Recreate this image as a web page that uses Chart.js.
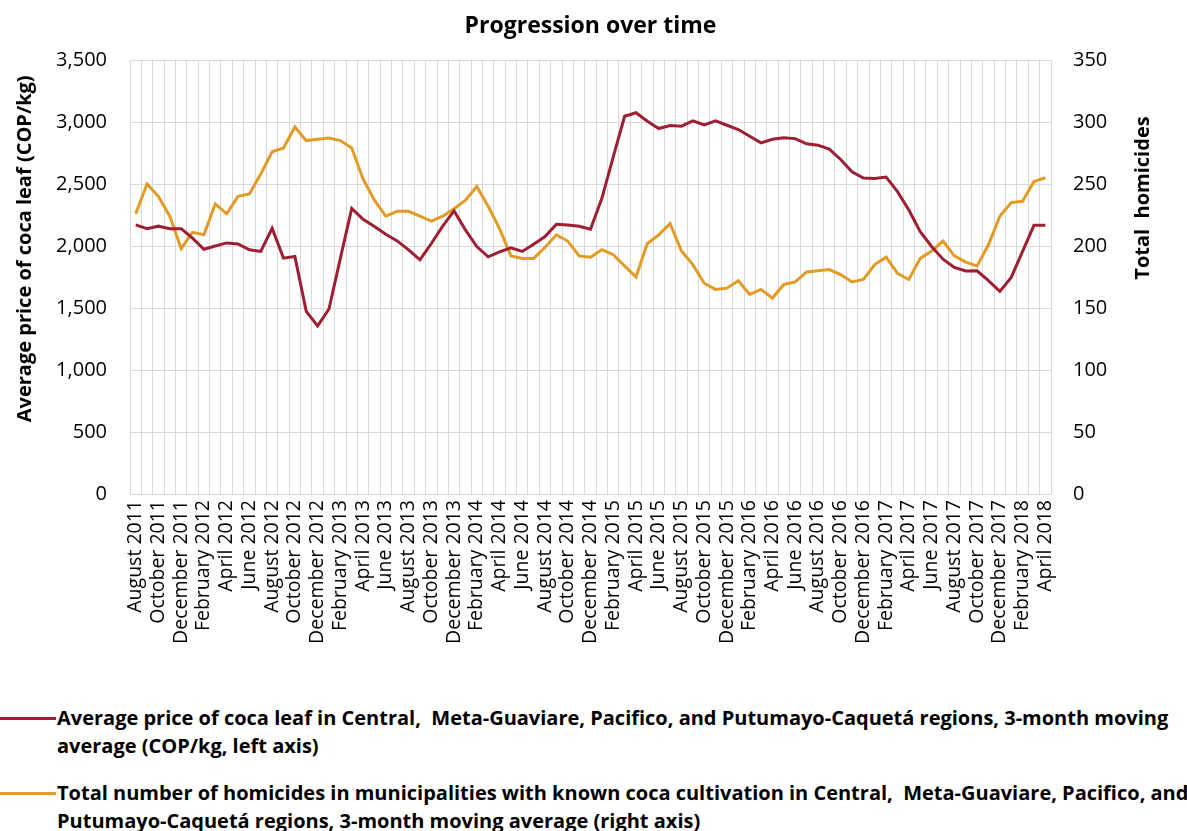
<!DOCTYPE html>
<html>
<head>
<meta charset="utf-8">
<title>Progression over time</title>
<script src="https://cdn.jsdelivr.net/npm/chart.js"></script>
<style>
  body { margin: 0; background: #fff; font-family: "Open Sans", sans-serif; }
  #wrap { position: relative; width: 1187px; height: 831px; }
  #legend { position: absolute; left: 0; top: 704px; width: 1187px; }
  .item { position: relative; padding-left: 57px; margin-bottom: 19px; white-space: pre;
    font-weight: bold; font-size: 20px; line-height: 28px; color: #000; }
  .item .swatch { position: absolute; left: 0; top: 13px; width: 56px; height: 3px; }
</style>
</head>
<body>
<div id="wrap">
  <canvas id="myChart" width="1187" height="680"></canvas>
  <div id="legend"></div>
</div>
<script>
// months, Aug 2011 - Apr 2018
var months = [
  "August 2011", "September 2011", "October 2011", "November 2011", "December 2011",
  "January 2012", "February 2012", "March 2012", "April 2012", "May 2012", "June 2012",
  "July 2012", "August 2012", "September 2012", "October 2012", "November 2012", "December 2012",
  "January 2013", "February 2013", "March 2013", "April 2013", "May 2013", "June 2013",
  "July 2013", "August 2013", "September 2013", "October 2013", "November 2013", "December 2013",
  "January 2014", "February 2014", "March 2014", "April 2014", "May 2014", "June 2014",
  "July 2014", "August 2014", "September 2014", "October 2014", "November 2014", "December 2014",
  "January 2015", "February 2015", "March 2015", "April 2015", "May 2015", "June 2015",
  "July 2015", "August 2015", "September 2015", "October 2015", "November 2015", "December 2015",
  "January 2016", "February 2016", "March 2016", "April 2016", "May 2016", "June 2016",
  "July 2016", "August 2016", "September 2016", "October 2016", "November 2016", "December 2016",
  "January 2017", "February 2017", "March 2017", "April 2017", "May 2017", "June 2017",
  "July 2017", "August 2017", "September 2017", "October 2017", "November 2017", "December 2017",
  "January 2018", "February 2018", "March 2018", "April 2018"
];

// coca leaf price, COP/kg (3-month moving avg)
var cocaPrice = [
  2170, 2140, 2160, 2140, 2140,
  2063, 1974, 2000, 2025, 2017, 1969, 1956, 2143, 1902, 1915, 1473, 1356,
  1492, 1900, 2304, 2216, 2157, 2095, 2041, 1969, 1889, 2020, 2160, 2283,
  2130, 1996, 1913, 1953, 1985, 1956, 2015, 2076, 2175, 2170, 2159, 2135,
  2384, 2719, 3046, 3075, 3006, 2947, 2971, 2966, 3009, 2976, 3009, 2974,
  2939, 2885, 2832, 2861, 2872, 2866, 2824, 2813, 2781, 2698, 2599, 2548,
  2545, 2556, 2438, 2290, 2116, 1996, 1894, 1827, 1798, 1800, 1720, 1634,
  1747, 1956, 2167, 2167
];

// homicides in coca municipalities (3-month moving avg)
var homicides = [
  226, 250, 240, 224, 198,
  211, 209, 234, 226, 240, 242, 258, 276, 279, 296, 285, 286,
  287, 285, 279, 254, 237, 224, 228, 228, 224, 220, 224, 230,
  237, 248, 232, 214, 192, 190, 190, 199, 209, 204, 192, 191,
  197, 193, 184, 175, 202, 209, 218, 196, 185, 170, 165, 166,
  172, 161, 165, 158, 169, 171, 179, 180, 181, 177, 171, 173,
  185, 191, 178, 173, 190, 196, 204, 192, 187, 184, 201, 224,
  235, 236, 252, 255
];

var seriesNames = [
  ["Average price of coca leaf in Central,  Meta-Guaviare, Pacifico, and Putumayo-Caquetá regions, 3-month moving",
   "average (COP/kg, left axis)"],
  ["Total number of homicides in municipalities with known coca cultivation in Central,  Meta-Guaviare, Pacifico, and",
   "Putumayo-Caquetá regions, 3-month moving average (right axis)"]
];
var seriesColors = ["#9e1f32", "#e39b26"];

var chartTitle = "Progression over time";
var leftTitle = "Average price of coca leaf (COP/kg)";
var rightTitle = "Total  homicides";

var font = "'Open Sans', sans-serif";
var gridColor = "#d9d9d9";

// axis titles drawn by hand so both read bottom-to-top
var axisTitles = {
  id: "axisTitles",
  afterDraw: function (chart) {
    var ctx = chart.ctx;
    var area = chart.chartArea;
    var h = area.bottom - area.top;
    ctx.save();
    ctx.font = "bold 20px " + font;
    ctx.fillStyle = "#000";
    ctx.textAlign = "center";
    ctx.textBaseline = "middle";

    ctx.save();
    ctx.translate(25, area.top + h * 0.435);
    ctx.rotate(-Math.PI / 2);
    ctx.fillText(leftTitle, 0, 0);
    ctx.restore();

    ctx.save();
    ctx.translate(area.right + 92, area.top + h * 0.318);
    ctx.rotate(-Math.PI / 2);
    ctx.fillText(rightTitle, 0, 0);
    ctx.restore();

    ctx.restore();
  },
};

var chart = new Chart("myChart", {
  type: "line",
  data: {
    labels: months,
    datasets: [
      {
        label: seriesNames[0].join(" "),
        data: cocaPrice,
        borderColor: seriesColors[0],
        backgroundColor: seriesColors[0],
        borderWidth: 3,
        pointRadius: 0,
        tension: 0,
        yAxisID: "y",
      },
      {
        label: seriesNames[1].join(" "),
        data: homicides,
        borderColor: seriesColors[1],
        backgroundColor: seriesColors[1],
        borderWidth: 3,
        pointRadius: 0,
        tension: 0,
        yAxisID: "y1",
      },
    ],
  },
  options: {
    responsive: false,
    animation: false,
    layout: { padding: 0 },
    plugins: {
      legend: { display: false },
      tooltip: { enabled: false },
      title: {
        display: true,
        fullSize: false,
        text: chartTitle,
        color: "#000",
        font: { family: font, size: 23, weight: "bold" },
        padding: { top: 13, bottom: 19.4 },
      },
    },
    scales: {
      x: {
        offset: true,
        grid: { offset: true, color: gridColor, drawTicks: false },
        border: { display: false },
        ticks: {
          autoSkip: false,
          minRotation: 90,
          maxRotation: 90,
          padding: 6,
          color: "#000",
          font: { family: font, size: 19.5 },
          // label every second month, keep grid line for all
          callback: function (value, index) {
            return index % 2 === 0 ? months[index] : "";
          },
        },
        afterFit: function (scale) {
          scale.height = 186;
        },
      },
      y: {
        position: "left",
        min: 0,
        max: 3500,
        grid: { color: gridColor, drawTicks: false },
        border: { display: false },
        ticks: {
          stepSize: 500,
          padding: 23,
          color: "#000",
          font: { family: font, size: 20 },
          callback: function (v) {
            return v.toLocaleString("en-US");
          },
        },
        afterFit: function (scale) {
          scale.width = 130;
        },
      },
      y1: {
        position: "right",
        min: 0,
        max: 350,
        grid: { drawOnChartArea: false, drawTicks: false },
        border: { display: false },
        ticks: {
          stepSize: 50,
          padding: 22,
          color: "#000",
          font: { family: font, size: 20 },
        },
        afterFit: function (scale) {
          scale.width = 136;
        },
      },
    },
  },
  plugins: [axisTitles],
});

// legend below the chart, two wrapped entries
var legendBox = document.getElementById("legend");
chart.data.datasets.forEach(function (ds, i) {
  var item = document.createElement("div");
  item.className = "item";
  var swatch = document.createElement("span");
  swatch.className = "swatch";
  swatch.style.background = ds.borderColor;
  item.appendChild(swatch);
  seriesNames[i].forEach(function (line, j) {
    if (j > 0) item.appendChild(document.createElement("br"));
    item.appendChild(document.createTextNode(line));
  });
  legendBox.appendChild(item);
});
</script>
</body>
</html>
